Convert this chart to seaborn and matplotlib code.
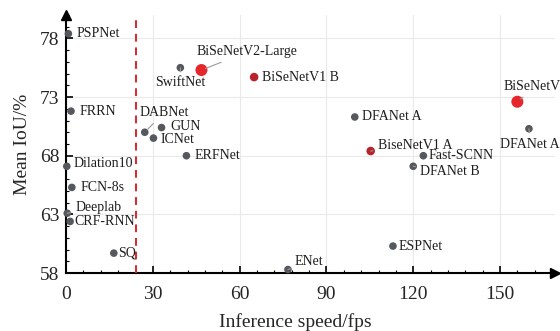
import pandas as pd
import numpy as np
import matplotlib
matplotlib.use("Agg")
import matplotlib.pyplot as plt
from matplotlib.ticker import MultipleLocator
import seaborn as sns

# === Data ===
names = ["PSPNet", "FRRN", "Dilation10", "FCN-8s", "Deeplab", "CRF-RNN", "SQ",
         "SwiftNet", "BiSeNetV2-Large", "BiSeNetV1 B", "DABNet", "GUN", "ICNet",
         "ERFNet", "DFANet A", "BiseNetV1 A", "Fast-SCNN", "DFANet B",
         "BiSeNetV2", "DFANet A'", "ESPNet", "ENet"]
fps = [0.8, 1.7, 0.25, 2.0, 0.4, 1.4, 16.5,
       39.5, 46.8, 65.0, 27.2, 33.0, 30.2,
       41.6, 99.8, 105.3, 123.5, 120.0,
       156.0, 160.0, 113.0, 76.7]
miou = [78.4, 71.8, 67.1, 65.3, 63.1, 62.4, 59.7,
        75.5, 75.3, 74.7, 70.0, 70.4, 69.5,
        68.0, 71.3, 68.4, 68.0, 67.1,
        72.6, 70.3, 60.3, 58.3]
group = ["other"] * 8 + ["v2", "v1"] + ["other"] * 5 + ["v1"] + ["other"] * 2 + ["v2"] + ["other"] * 3

xticks = [0, 30, 60, 90, 120, 150]
yticks = [58, 63, 68, 73, 78]
realtime_fps = 24

df = pd.DataFrame({"name": names, "fps": fps, "miou": miou, "group": group})

# label offsets in points: (dx, dy, ha, leader line)
label_pos = {
  "PSPNet": (6, 0, "left", False),
  "FRRN": (6, 0, "left", False),
  "Dilation10": (5, 2, "left", False),
  "FCN-8s": (6, 0, "left", False),
  "Deeplab": (6, 4, "left", True),
  "CRF-RNN": (3, 0, "left", False),
  "SQ": (3, 0, "left", False),
  "SwiftNet": (0, -11, "center", True),
  "BiSeNetV2-Large": (33, 13, "center", True),
  "BiSeNetV1 B": (6, 0, "left", False),
  "DABNet": (-4, 14, "left", True),
  "GUN": (6, 0.5, "left", False),
  "ICNet": (5, -1, "left", False),
  "ERFNet": (6, 0, "left", False),
  "DFANet A": (5, 0, "left", False),
  "BiseNetV1 A": (5, 4, "left", True),
  "Fast-SCNN": (4, 0, "left", False),
  "DFANet B": (5, -4, "left", True),
  "BiSeNetV2": (-10, 11, "left", True),
  "DFANet A'": (-21, -11, "left", True),
  "ESPNet": (4, 0, "left", False),
  "ENet": (5, 6, "left", True),
}

sns.set_style("whitegrid")
plt.rcParams["font.family"] = ["Liberation Serif", "DejaVu Serif"]

fig = plt.figure(figsize=(5.6, 3.31), dpi=100)
ax = fig.add_axes([0.118, 0.175, 0.873, 0.78])

palette = {"other": "#55585d", "v1": "#b8232b", "v2": "#e5262a"}
sizes = {"other": 30, "v1": 38, "v2": 75}
sns.scatterplot(data=df, x="fps", y="miou", hue="group", size="group",
                palette=palette, sizes=sizes, linewidth=0, legend=False,
                ax=ax, zorder=4, clip_on=False)

for _, row in df.iterrows():
  dx, dy, ha, leader = label_pos[row["name"]]
  props = None
  if leader:
    props = dict(arrowstyle="-", color="#9a9a9a", lw=0.8, shrinkA=1, shrinkB=3)
  ax.annotate(row["name"], (row["fps"], row["miou"]), xytext=(dx, dy),
              textcoords="offset points", ha=ha, va="center",
              fontsize=10, color="#1e1e1e", arrowprops=props,
              annotation_clip=False, zorder=5)

ax.axvline(realtime_fps, color="#d9262b", lw=1.4, ls=(0, (4, 3)), zorder=3)

ax.set_xlim(0, 169)
ax.set_ylim(58, 80)
ax.set_xticks(xticks)
ax.set_yticks(yticks)
ax.xaxis.set_minor_locator(MultipleLocator(6))
ax.yaxis.set_minor_locator(MultipleLocator(1))
ax.tick_params(which="both", direction="in", bottom=True, left=True,
               color="black", labelsize=14)
ax.tick_params(axis="x", which="major", pad=9)
ax.tick_params(axis="y", which="major", pad=5)
ax.tick_params(which="major", length=5, width=1.2)
ax.tick_params(which="minor", length=2.5, width=0.8)
ax.grid(which="major", color="#e9e9e9", lw=0.8)
ax.grid(which="minor", visible=False)

for s in ["top", "right"]:
  ax.spines[s].set_visible(False)
for s in ["left", "bottom"]:
  ax.spines[s].set_color("black")
  ax.spines[s].set_linewidth(1.5)

# axis arrows
ax.plot(1, 0, ">k", ms=7, transform=ax.transAxes, clip_on=False)
ax.plot(0, 1, "^k", ms=7, transform=ax.transAxes, clip_on=False)

ax.set_xlabel("Inference speed/fps", fontsize=14)
ax.set_ylabel("Mean IoU/%", fontsize=14, labelpad=6)
ax.xaxis.set_label_coords(0.468, -0.155)

plt.savefig("out.png", dpi=100)
plt.close()
